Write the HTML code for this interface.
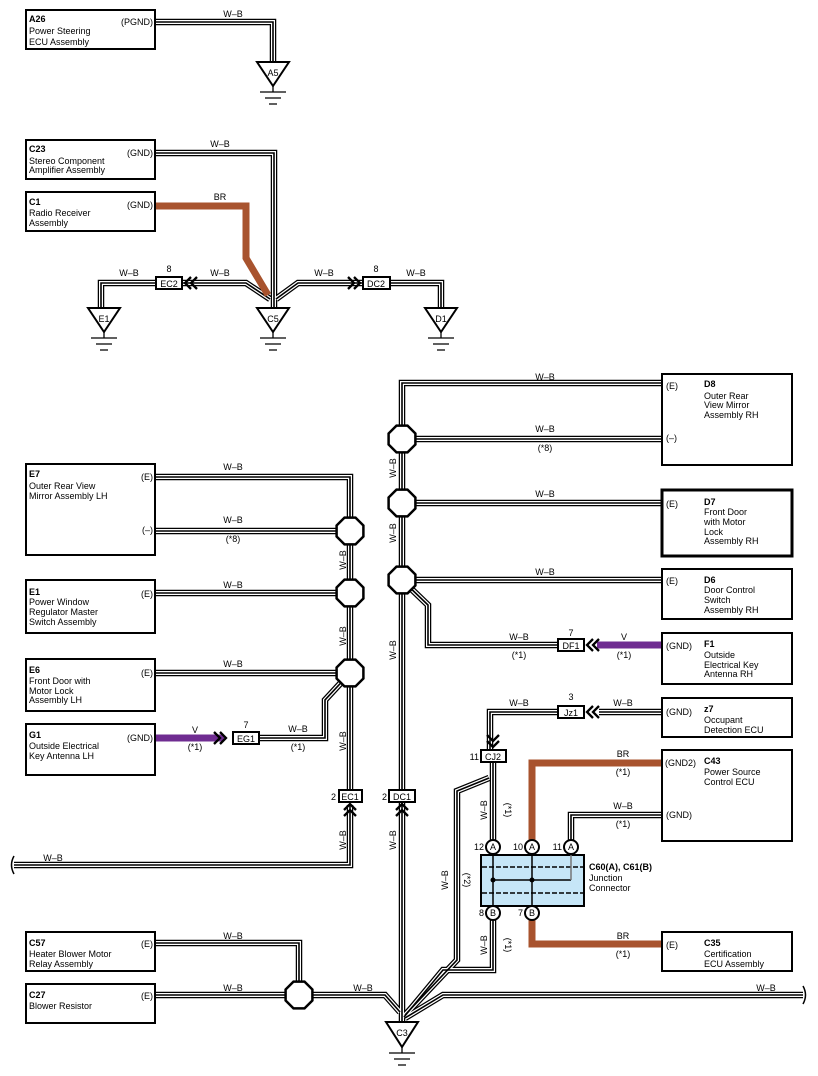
<!DOCTYPE html>
<html><head><meta charset="utf-8"><style>
html,body{margin:0;padding:0;background:#fff}
svg{display:block}
text{font-family:"Liberation Sans",sans-serif;font-size:9px;fill:#000}
.b{font-weight:bold}
</style></head><body>
<svg id="s" width="818" height="1076" viewBox="0 0 818 1076" xmlns="http://www.w3.org/2000/svg">
<g id="wires"></g>
<g id="top" fill="none" stroke-linejoin="miter">
<polyline points="155,206 246,206 246,258 268,295" stroke="#a8532e" stroke-width="7"/>
<polyline points="532,840 532,763 662,763" stroke="#a8532e" stroke-width="7"/>
<polyline points="532,918 532,944 662,944" stroke="#a8532e" stroke-width="7"/>
<line x1="597" y1="645" x2="662" y2="645" stroke="#6f2c91" stroke-width="7"/>
<line x1="155" y1="738" x2="224" y2="738" stroke="#6f2c91" stroke-width="7"/>
</g>
<g id="shapes" stroke="#000" fill="#fff" stroke-width="2">
<rect x="26" y="10" width="129" height="39"/>
<rect x="26" y="140" width="129" height="39"/>
<rect x="26" y="192" width="129" height="39"/>
<rect x="26" y="464" width="129" height="91"/>
<rect x="26" y="580" width="129" height="53"/>
<rect x="26" y="659" width="129" height="52"/>
<rect x="26" y="724" width="129" height="51"/>
<rect x="26" y="932" width="129" height="39"/>
<rect x="26" y="984" width="129" height="39"/>
<rect x="662" y="374" width="130" height="91"/>
<rect x="662" y="490" width="130" height="66" stroke-width="3"/>
<rect x="662" y="569" width="130" height="50"/>
<rect x="662" y="633" width="130" height="51"/>
<rect x="662" y="698" width="130" height="39"/>
<rect x="662" y="750" width="130" height="91"/>
<rect x="662" y="932" width="130" height="39"/>
<rect x="156" y="277" width="26" height="12"/>
<rect x="363" y="277" width="27" height="12"/>
<rect x="558" y="639" width="26" height="12"/>
<rect x="558" y="706" width="26" height="12"/>
<rect x="233" y="732" width="26" height="12"/>
<rect x="481" y="750" width="25" height="12"/>
<rect x="339" y="790" width="23" height="12"/>
<rect x="389" y="790" width="26" height="12"/>
</g>
<g fill="none" stroke="#000" stroke-width="2.3">
<path d="M191,277 l-6,6 l6,6 M197,277 l-6,6 l6,6"/>
<path d="M354,277 l6,6 l-6,6 M348,277 l6,6 l-6,6"/>
<path d="M593,639 l-6,6 l6,6 M599,639 l-6,6 l6,6"/>
<path d="M593,706 l-6,6 l6,6 M599,706 l-6,6 l6,6"/>
<path d="M220,732 l6,6 l-6,6 M214,732 l6,6 l-6,6"/>
<path d="M487,741 l6,6 l6,-6 M487,735 l6,6 l6,-6"/>
<path d="M344,810 l6,-6 l6,6 M344,816 l6,-6 l6,6"/>
<path d="M396,810 l6,-6 l6,6 M396,816 l6,-6 l6,6"/>
<path d="M14,856 q-5,9 0,18" stroke-width="1.5"/>
<path d="M803,986 q5,9 0,18" stroke-width="1.5"/>
</g>
<g stroke="#000" stroke-width="2" fill="#fff">
<polygon points="257,62 289,62 273,86"/>
<polygon points="257,308 289,308 273,332"/>
<polygon points="88,308 120,308 104,332"/>
<polygon points="425,308 457,308 441,332"/>
<polygon points="386,1022 418,1022 402,1047"/>
</g>
<g stroke="#000" stroke-width="1.3">
<path d="M273,86v6 M260,92h26 M265,98h16 M269,104h8"/>
<path d="M273,332v6 M260,338h26 M265,344h16 M269,350h8"/>
<path d="M104,332v6 M91,338h26 M96,344h16 M100,350h8"/>
<path d="M441,332v6 M428,338h26 M433,344h16 M437,350h8"/>
<path d="M402,1047v6 M389,1053h26 M394,1059h16 M398,1065h8"/>
</g>
<rect x="481" y="855" width="103" height="51" fill="#c6e6f7" stroke="#000" stroke-width="2"/>
<g stroke="#000" stroke-width="1.5" fill="none">
<line x1="482" y1="867" x2="583" y2="867" stroke-dasharray="5,2"/>
<line x1="482" y1="893" x2="583" y2="893" stroke-dasharray="5,2"/>
<line x1="493" y1="855" x2="493" y2="906"/>
<line x1="532" y1="855" x2="532" y2="906"/>
<line x1="493" y1="880" x2="571" y2="880"/>
<line x1="571" y1="855" x2="571" y2="880" stroke="#777"/>
</g>
<circle cx="493" cy="880" r="2.5"/><circle cx="532" cy="880" r="2.5"/>
<g stroke="#000" stroke-width="2" fill="#fff">
<circle cx="493" cy="847" r="7"/><circle cx="532" cy="847" r="7"/><circle cx="571" cy="847" r="7"/>
<circle cx="493" cy="913" r="7"/><circle cx="532" cy="913" r="7"/>
</g>
<g id="octs"></g>
<g>
<text x="29" y="22" class="b">A26</text><text x="29" y="34">Power Steering</text><text x="29" y="45">ECU Assembly</text><text x="121" y="25">(PGND)</text>
<text x="29" y="152" class="b">C23</text><text x="29" y="164">Stereo Component</text><text x="29" y="173">Amplifier Assembly</text><text x="127" y="156">(GND)</text>
<text x="29" y="205" class="b">C1</text><text x="29" y="216">Radio Receiver</text><text x="29" y="226">Assembly</text><text x="127" y="208">(GND)</text>
<text x="29" y="477" class="b">E7</text><text x="29" y="489">Outer Rear View</text><text x="29" y="499">Mirror Assembly LH</text><text x="141" y="480">(E)</text><text x="142" y="533">(–)</text>
<text x="29" y="595" class="b">E1</text><text x="29" y="605">Power Window</text><text x="29" y="615">Regulator Master</text><text x="29" y="625">Switch Assembly</text><text x="141" y="597">(E)</text>
<text x="29" y="673" class="b">E6</text><text x="29" y="684">Front Door with</text><text x="29" y="694">Motor Lock</text><text x="29" y="703">Assembly LH</text><text x="141" y="676">(E)</text>
<text x="29" y="738" class="b">G1</text><text x="29" y="749">Outside Electrical</text><text x="29" y="759">Key Antenna LH</text><text x="127" y="741">(GND)</text>
<text x="29" y="946" class="b">C57</text><text x="29" y="957">Heater Blower Motor</text><text x="29" y="967">Relay Assembly</text><text x="141" y="947">(E)</text>
<text x="29" y="998" class="b">C27</text><text x="29" y="1009">Blower Resistor</text><text x="141" y="999">(E)</text>
<text x="666" y="389">(E)</text><text x="704" y="387" class="b">D8</text><text x="704" y="399">Outer Rear</text><text x="704" y="408">View Mirror</text><text x="704" y="418">Assembly RH</text><text x="666" y="441">(–)</text>
<text x="666" y="507">(E)</text><text x="704" y="505" class="b">D7</text><text x="704" y="515">Front Door</text><text x="704" y="525">with Motor</text><text x="704" y="535">Lock</text><text x="704" y="544">Assembly RH</text>
<text x="666" y="584">(E)</text><text x="704" y="583" class="b">D6</text><text x="704" y="593">Door Control</text><text x="704" y="603">Switch</text><text x="704" y="613">Assembly RH</text>
<text x="666" y="649">(GND)</text><text x="704" y="647" class="b">F1</text><text x="704" y="658">Outside</text><text x="704" y="668">Electrical Key</text><text x="704" y="677">Antenna RH</text>
<text x="666" y="715">(GND)</text><text x="704" y="712" class="b">z7</text><text x="704" y="723">Occupant</text><text x="704" y="733">Detection ECU</text>
<text x="665" y="766">(GND2)</text><text x="704" y="764" class="b">C43</text><text x="704" y="775">Power Source</text><text x="704" y="785">Control ECU</text><text x="666" y="818">(GND)</text>
<text x="666" y="948">(E)</text><text x="704" y="946" class="b">C35</text><text x="704" y="957">Certification</text><text x="704" y="967">ECU Assembly</text>
<text x="589" y="870" class="b">C60(A), C61(B)</text><text x="589" y="881">Junction</text><text x="589" y="891">Connector</text>
</g>
<g text-anchor="middle">
<text x="233" y="17">W–B</text><text x="220" y="147">W–B</text><text x="220" y="200">BR</text>
<text x="129" y="276">W–B</text><text x="220" y="276">W–B</text><text x="324" y="276">W–B</text><text x="416" y="276">W–B</text>
<text x="169" y="272">8</text><text x="376" y="272">8</text>
<text x="169" y="287">EC2</text><text x="376" y="287">DC2</text>
<text x="273" y="76" font-size="8">A5</text><text x="273" y="322" font-size="8">C5</text><text x="104" y="322" font-size="8">E1</text><text x="441" y="322" font-size="8">D1</text><text x="402" y="1036" font-size="8">C3</text>
<text x="545" y="380">W–B</text><text x="545" y="432">W–B</text><text x="545" y="451">(*8)</text>
<text x="545" y="497">W–B</text><text x="545" y="575">W–B</text>
<text x="519" y="640">W–B</text><text x="519" y="658">(*1)</text><text x="624" y="640">V</text><text x="624" y="658">(*1)</text>
<text x="571" y="636">7</text><text x="571" y="649">DF1</text>
<text x="571" y="700">3</text><text x="571" y="716">Jz1</text>
<text x="519" y="706">W–B</text><text x="623" y="706">W–B</text>
<text x="623" y="757">BR</text><text x="623" y="775">(*1)</text>
<text x="623" y="809">W–B</text><text x="623" y="827">(*1)</text>
<text x="623" y="939">BR</text><text x="623" y="957">(*1)</text>
<text x="233" y="470">W–B</text><text x="233" y="523">W–B</text><text x="233" y="542">(*8)</text>
<text x="233" y="588">W–B</text><text x="233" y="667">W–B</text>
<text x="195" y="733">V</text><text x="195" y="750">(*1)</text>
<text x="298" y="732">W–B</text><text x="298" y="750">(*1)</text>
<text x="246" y="728">7</text><text x="246" y="742">EG1</text>
<text x="493" y="760">CJ2</text><text x="350" y="800">EC1</text><text x="402" y="800">DC1</text>
<text x="53" y="861">W–B</text><text x="233" y="939">W–B</text><text x="233" y="991">W–B</text><text x="363" y="991">W–B</text><text x="766" y="991">W–B</text>
<text x="493" y="850" font-size="8">A</text><text x="532" y="850" font-size="8">A</text><text x="571" y="850" font-size="8">A</text>
<text x="493" y="916" font-size="8">B</text><text x="532" y="916" font-size="8">B</text>
</g>
<g text-anchor="end">
<text x="479" y="760">11</text><text x="336" y="800">2</text><text x="387" y="800">2</text>
<text x="484" y="850">12</text><text x="523" y="850">10</text><text x="562" y="850">11</text>
<text x="484" y="916">8</text><text x="523" y="916">7</text>
</g>
<g text-anchor="middle">
<text transform="translate(346,560) rotate(-90)">W–B</text>
<text transform="translate(346,636) rotate(-90)">W–B</text>
<text transform="translate(346,741) rotate(-90)">W–B</text>
<text transform="translate(346,840) rotate(-90)">W–B</text>
<text transform="translate(396,468) rotate(-90)">W–B</text>
<text transform="translate(396,533) rotate(-90)">W–B</text>
<text transform="translate(396,650) rotate(-90)">W–B</text>
<text transform="translate(396,840) rotate(-90)">W–B</text>
<text transform="translate(487,810) rotate(-90)">W–B</text>
<text transform="translate(505,810) rotate(90)">(*1)</text>
<text transform="translate(487,945) rotate(-90)">W–B</text>
<text transform="translate(505,945) rotate(90)">(*1)</text>
<text transform="translate(448,880) rotate(-90)">W–B</text>
<text transform="translate(464,880) rotate(90)">(*2)</text>
</g>
</svg>
<script>
var NS="http://www.w3.org/2000/svg";
var W=[
"155,22 273,22 273,62",
"155,153 274,153 274,308",
"182,283 246,283 270,299",
"156,283 101,283 101,308",
"276,299 298,283 363,283",
"390,283 441,283 441,308",
"402,805 402,383 662,383",
"402,439 662,439","402,503 662,503","402,580 662,580",
"402,580 428,605 428,645 558,645",
"558,712 490,712 490,750",
"599,712 662,712",
"493,762 493,840",
"571,840 571,815 662,815",
"155,477 350,477 350,790",
"155,531 350,531","155,593 350,593","155,673 350,673",
"259,738 325,738 325,700 350,673",
"350,805 350,865 14,865",
"402,805 402,1022",
"489,778 457,791 457,960 405,1015",
"493,920 493,970 443,970 404,1017",
"803,995 443,995 405,1018",
"155,943 299,943 299,995",
"155,995 385,995 400,1012"
];
var g=document.getElementById("wires");
[["#000",6.5],["#fff",4],["#000",1.6]].forEach(function(s){
 W.forEach(function(p){
  var e=document.createElementNS(NS,"polyline");
  e.setAttribute("points",p);e.setAttribute("fill","none");
  e.setAttribute("stroke",s[0]);e.setAttribute("stroke-width",s[1]);
  e.setAttribute("stroke-linejoin","miter");
  g.appendChild(e);
 });
});
var O=[[402,439],[402,503],[402,580],[350,531],[350,593],[350,673],[299,995]];
var og=document.getElementById("octs");
O.forEach(function(c){
 var r=14.5,pts=[];
 for(var i=0;i<8;i++){var a=Math.PI/8+i*Math.PI/4;pts.push((c[0]+r*Math.cos(a)).toFixed(1)+","+(c[1]+r*Math.sin(a)).toFixed(1));}
 var e=document.createElementNS(NS,"polygon");
 e.setAttribute("points",pts.join(" "));e.setAttribute("fill","#fff");
 e.setAttribute("stroke","#000");e.setAttribute("stroke-width",2.5);
 og.appendChild(e);
});
</script>
</body></html>
